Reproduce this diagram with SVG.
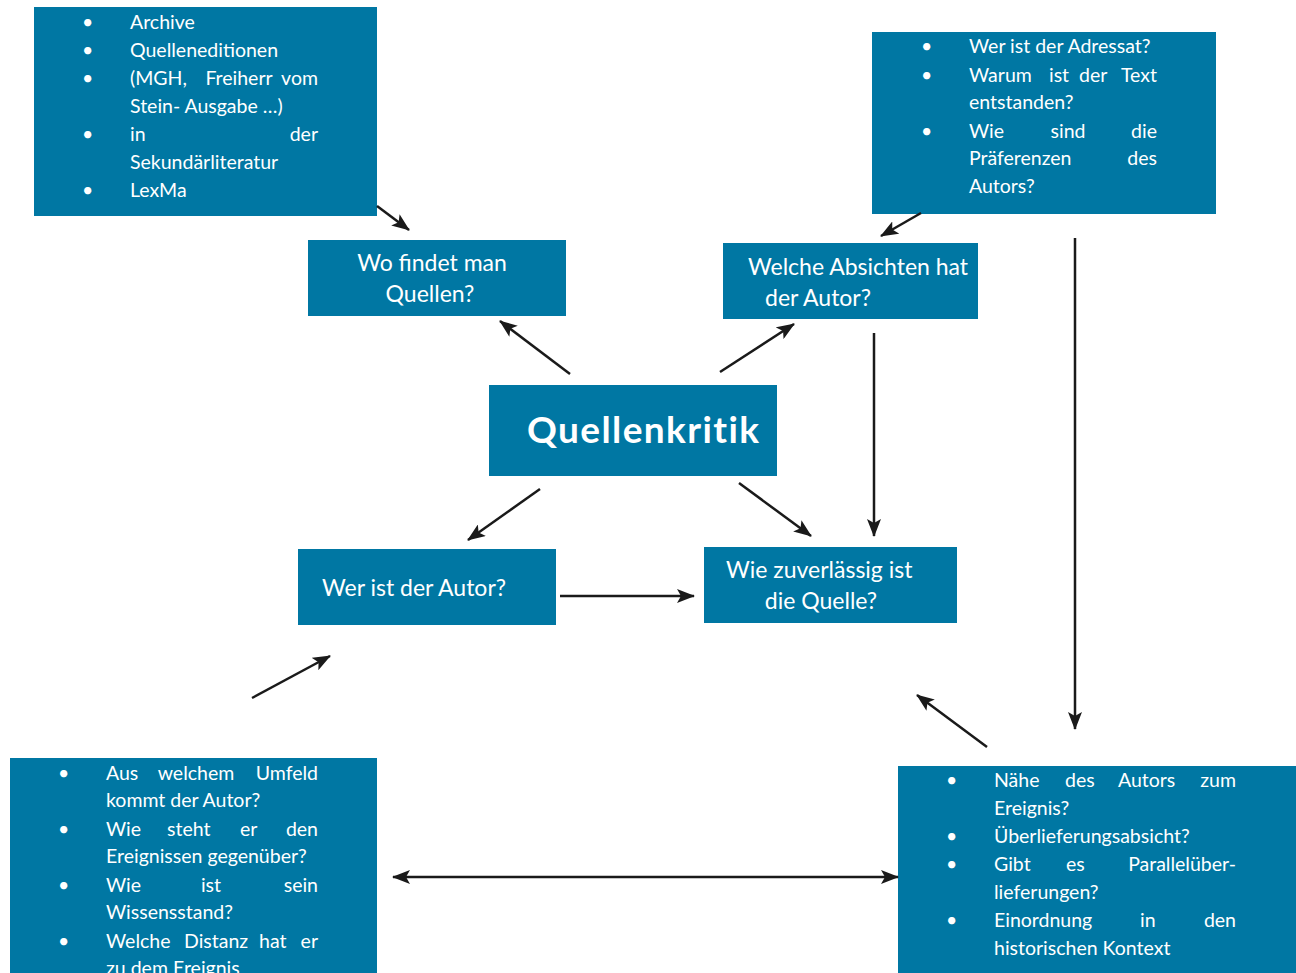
<svg xmlns="http://www.w3.org/2000/svg" width="1296" height="973" viewBox="0 0 1296 973">
<defs>
<style>
.box{fill:#0077A3}
.t{fill:#fff;font-family:Lato,"Open Sans","Liberation Sans",sans-serif;font-size:19.5px}
.h{fill:#fff;font-family:Lato,"Open Sans","Liberation Sans",sans-serif;font-size:23px}
.q{fill:#fff;font-family:Lato,"Open Sans","Liberation Sans",sans-serif;font-size:37px;font-weight:bold;letter-spacing:1.4px}
.e{text-anchor:end}
.m{text-anchor:middle}
.c line{stroke:#1a1a1a;stroke-width:2.5;marker-end:url(#ah)}
</style>
<marker id="ah" viewBox="0 0 18 14" refX="17" refY="7" markerWidth="18" markerHeight="14" markerUnits="userSpaceOnUse" orient="auto">
<path d="M0,0 L18,7 L0,14 L4,7 z" fill="#1a1a1a"/>
</marker>
<marker id="as" viewBox="0 0 18 14" refX="1" refY="7" markerWidth="18" markerHeight="14" markerUnits="userSpaceOnUse" orient="auto">
<path d="M18,0 L0,7 L18,14 L14,7 z" fill="#1a1a1a"/>
</marker>
</defs>
<rect width="1296" height="973" fill="#fff"/>

<g id="sources">
<rect class="box" x="34" y="7" width="343" height="209"/>
<text class="t" x="82" y="29">•</text><text class="t" x="130" y="29">Archive</text>
<text class="t" x="82" y="57">•</text><text class="t" x="130" y="57">Quelleneditionen</text>
<text class="t" x="82" y="85">•</text><text class="t" x="130" y="85">(MGH,</text><text class="t m" x="239" y="85">Freiherr</text><text class="t e" x="318" y="85">vom</text>
<text class="t" x="130" y="113">Stein- Ausgabe …)</text>
<text class="t" x="82" y="141">•</text><text class="t" x="130" y="141">in</text><text class="t e" x="318" y="141">der</text>
<text class="t" x="130" y="169">Sekundärliteratur</text>
<text class="t" x="82" y="197">•</text><text class="t" x="130" y="197">LexMa</text>
</g>

<g id="intent-questions">
<rect class="box" x="872" y="32" width="344" height="182"/>
<text class="t" x="921" y="53">•</text><text class="t" x="969" y="53">Wer ist der Adressat?</text>
<text class="t" x="921" y="82">•</text><text class="t" x="969" y="82">Warum</text><text class="t" x="1049" y="82">ist</text><text class="t" x="1079" y="82">der</text><text class="t e" x="1157" y="82">Text</text>
<text class="t" x="969" y="109">entstanden?</text>
<text class="t" x="921" y="138">•</text><text class="t" x="969" y="138">Wie</text><text class="t m" x="1068" y="138">sind</text><text class="t e" x="1157" y="138">die</text>
<text class="t" x="969" y="165">Präferenzen</text><text class="t e" x="1157" y="165">des</text>
<text class="t" x="969" y="193">Autors?</text>
</g>

<g id="wo-findet">
<rect class="box" x="308" y="240" width="258" height="76"/>
<text class="h m" x="432" y="271">Wo findet man</text>
<text class="h m" x="430" y="302">Quellen?</text>
</g>

<g id="absichten">
<rect class="box" x="723" y="243" width="255" height="76"/>
<text class="h" x="748" y="275">Welche Absichten hat</text>
<text class="h" x="765" y="306">der Autor?</text>
</g>

<g id="quellenkritik">
<rect class="box" x="489" y="385" width="288" height="91"/>
<text class="q" x="527" y="443">Quellenkritik</text>
</g>

<g id="autor">
<rect class="box" x="298" y="549" width="258" height="76"/>
<text class="h" x="322" y="596">Wer ist der Autor?</text>
</g>

<g id="zuverlaessig">
<rect class="box" x="704" y="547" width="253" height="76"/>
<text class="h" x="726" y="578">Wie zuverlässig ist</text>
<text class="h m" x="821" y="609">die Quelle?</text>
</g>

<g id="author-questions">
<rect class="box" x="10" y="758" width="367" height="215"/>
<text class="t" x="58" y="780">•</text><text class="t" x="106" y="780">Aus</text><text class="t m" x="196" y="780">welchem</text><text class="t e" x="318" y="780">Umfeld</text>
<text class="t" x="106" y="807">kommt der Autor?</text>
<text class="t" x="58" y="836">•</text><text class="t" x="106" y="836">Wie</text><text class="t" x="167" y="836">steht</text><text class="t" x="240" y="836">er</text><text class="t e" x="318" y="836">den</text>
<text class="t" x="106" y="863">Ereignissen gegenüber?</text>
<text class="t" x="58" y="892">•</text><text class="t" x="106" y="892">Wie</text><text class="t m" x="211" y="892">ist</text><text class="t e" x="318" y="892">sein</text>
<text class="t" x="106" y="919">Wissensstand?</text>
<text class="t" x="58" y="948">•</text><text class="t" x="106" y="948">Welche</text><text class="t" x="184" y="948">Distanz</text><text class="t" x="259" y="948">hat</text><text class="t e" x="318" y="948">er</text>
<text class="t" x="106" y="975">zu dem Ereignis</text>
</g>

<g id="reliability-questions">
<rect class="box" x="898" y="766" width="398" height="207"/>
<text class="t" x="946" y="787">•</text><text class="t" x="994" y="787">Nähe</text><text class="t" x="1065" y="787">des</text><text class="t" x="1118" y="787">Autors</text><text class="t e" x="1236" y="787">zum</text>
<text class="t" x="994" y="815">Ereignis?</text>
<text class="t" x="946" y="843">•</text><text class="t" x="994" y="843">Überlieferungsabsicht?</text>
<text class="t" x="946" y="871">•</text><text class="t" x="994" y="871">Gibt</text><text class="t" x="1066" y="871">es</text><text class="t e" x="1236" y="871">Parallelüber-</text>
<text class="t" x="994" y="899">lieferungen?</text>
<text class="t" x="946" y="927">•</text><text class="t" x="994" y="927">Einordnung</text><text class="t" x="1140" y="927">in</text><text class="t e" x="1236" y="927">den</text>
<text class="t" x="994" y="955">historischen Kontext</text>
</g>

<g id="connectors" class="c">
<line x1="377" y1="206" x2="409" y2="230"/>
<line x1="921" y1="213" x2="881" y2="236"/>
<line x1="570" y1="374" x2="500" y2="321"/>
<line x1="720" y1="372" x2="794" y2="324"/>
<line x1="540" y1="489" x2="468" y2="540"/>
<line x1="739" y1="483" x2="811" y2="536"/>
<line x1="874" y1="333" x2="874" y2="536"/>
<line x1="1075" y1="238" x2="1075" y2="729"/>
<line x1="560" y1="596" x2="694" y2="596"/>
<line x1="252" y1="698" x2="330" y2="656"/>
<line x1="987" y1="747" x2="917" y2="695"/>
<line x1="393" y1="877" x2="898" y2="877" marker-start="url(#as)"/>
</g>
</svg>
